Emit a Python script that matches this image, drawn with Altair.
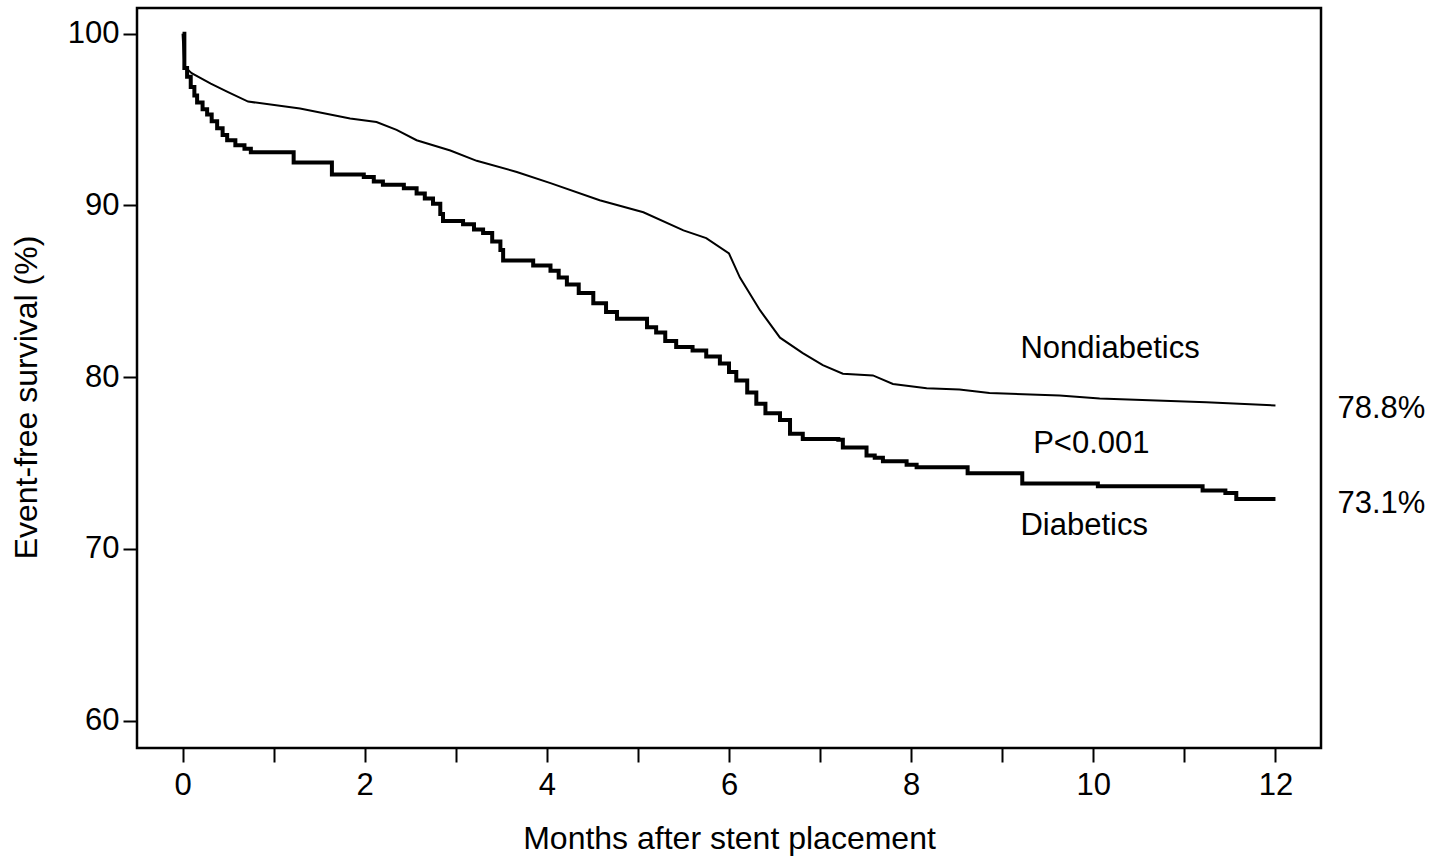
import altair as alt
import pandas as pd

# ---- data ----
months_non = [0, 0.02, 0.1, 0.31, 0.5, 0.72, 1.29, 1.84, 2.13, 2.35, 2.57, 2.94, 3.23,
              3.67, 4.04, 4.58, 5.06, 5.5, 5.75, 6.0, 6.12, 6.34, 6.56, 6.81, 7.03,
              7.25, 7.58, 7.8, 8.17, 8.53, 8.86, 9.63, 10.07, 11.24, 12.0]
surv_non = [100, 98.1, 97.7, 97.1, 96.6, 96.05, 95.65, 95.07, 94.86, 94.4, 93.8, 93.2, 92.6,
            91.95, 91.3, 90.3, 89.6, 88.55, 88.1, 87.2, 85.8, 83.9, 82.3, 81.4, 80.7,
            80.2, 80.1, 79.6, 79.35, 79.28, 79.07, 78.93, 78.76, 78.54, 78.35]

months_dia = [0, 0.02, 0.05, 0.09, 0.13, 0.16, 0.22, 0.27, 0.32, 0.38, 0.44, 0.49, 0.58,
              0.68, 0.75, 1.22, 1.64, 1.99, 2.1, 2.2, 2.43, 2.57, 2.66, 2.75, 2.83, 2.86,
              3.08, 3.2, 3.3, 3.4, 3.49, 3.52, 3.85, 4.04, 4.13, 4.22, 4.35, 4.51, 4.65,
              4.77, 5.1, 5.2, 5.3, 5.42, 5.6, 5.75, 5.9, 6.0, 6.08, 6.2, 6.3, 6.4, 6.56,
              6.67, 6.81, 7.2, 7.25, 7.51, 7.6, 7.69, 7.95, 8.06, 8.62, 9.22, 10.05,
              11.2, 11.45, 11.57, 12.0]
surv_dia = [100, 98.0, 97.5, 96.9, 96.4, 96.0, 95.6, 95.3, 94.9, 94.5, 94.1, 93.8, 93.5,
            93.3, 93.1, 92.5, 91.8, 91.65, 91.4, 91.2, 91.0, 90.7, 90.4, 90.1, 89.5, 89.1,
            88.9, 88.6, 88.4, 87.9, 87.4, 86.8, 86.5, 86.2, 85.8, 85.4, 84.9, 84.3, 83.8,
            83.4, 82.9, 82.6, 82.1, 81.75, 81.55, 81.2, 80.8, 80.3, 79.8, 79.1, 78.45, 77.9, 77.5,
            76.7, 76.4, 76.35, 75.9, 75.44, 75.3, 75.1, 74.9, 74.75, 74.4, 73.8, 73.65,
            73.4, 73.25, 72.9, 72.9]

ann_text = ["Nondiabetics", "P<0.001", "Diabetics", "78.8%", "73.1%"]
ann_month = [9.2, 9.34, 9.2, 12.68, 12.68]
ann_surv = [81.12, 75.58, 70.81, 77.62, 72.09]

x_ticks = list(range(0, 13))
y_ticks = [60, 70, 80, 90, 100]

df_non = pd.DataFrame({"month": months_non, "surv": surv_non})
df_dia = pd.DataFrame({"month": months_dia, "surv": surv_dia})
df_ann = pd.DataFrame({"month": ann_month, "surv": ann_surv, "label": ann_text})

FONT = "Liberation Sans"

x_scale = alt.Scale(domain=[-0.5, 12.5], nice=False, zero=False)
y_scale = alt.Scale(domain=[58.4, 101.5], nice=False, zero=False)

x_axis = alt.Axis(
    values=x_ticks,
    labelExpr="datum.value % 2 == 0 ? datum.label : ''",
    title="Months after stent placement",
    titleX=592, titleY=100, titleBaseline="alphabetic",
    labelPadding=8,
)
y_axis = alt.Axis(
    values=y_ticks,
    title="Event-free survival (%)",
    titleX=-101, titleY=389, titleBaseline="alphabetic",
    labelPadding=4,
)

X = alt.X("month:Q", scale=x_scale, axis=x_axis)
Y = alt.Y("surv:Q", scale=y_scale, axis=y_axis)

non = alt.Chart(df_non).mark_line(color="black", strokeWidth=2, interpolate="linear").encode(x=X, y=Y)
dia = alt.Chart(df_dia).mark_line(color="black", strokeWidth=4, interpolate="step-after").encode(x=X, y=Y)
txt = alt.Chart(df_ann).mark_text(
    align="left", baseline="alphabetic", fontSize=31, font=FONT, color="black"
).encode(x=X, y=Y, text="label:N")

chart = alt.layer(non, dia, txt).properties(
    width=1184, height=740,
    padding={"left": 137, "top": 8, "right": 120, "bottom": 108},
    autosize=alt.AutoSizeParams(type="none"),
    background="white",
).configure_view(
    stroke="black", strokeWidth=2.5
).configure_axis(
    domain=False, grid=False,
    tickColor="black", tickWidth=2, tickSize=14,
    labelFont=FONT, labelFontSize=31, labelColor="black",
    titleFont=FONT, titleFontSize=32, titleFontWeight="normal", titleColor="black",
)

chart.save("out.html", embed_options={"renderer": "svg", "actions": False})
